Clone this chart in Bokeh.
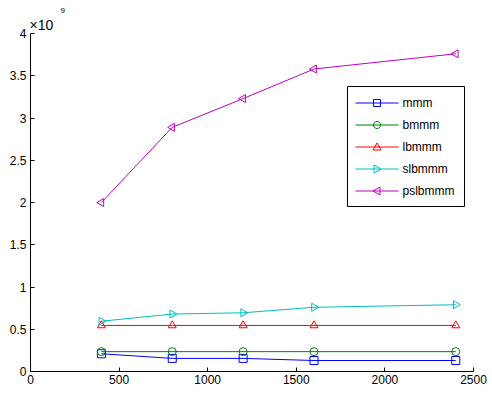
import math
from bokeh.plotting import figure
from bokeh.models import Range1d, Title, PolyAnnotation, BoxAnnotation, Label
from bokeh.embed import file_html
from bokeh.resources import INLINE

# x values and series values (in units of 1e9)
x_vals = [400, 800, 1200, 1600, 2400]
mmm = [0.21, 0.155, 0.155, 0.13, 0.13]
bmmm = [0.235, 0.235, 0.235, 0.235, 0.235]
lbmmm = [0.545, 0.545, 0.545, 0.545, 0.545]
slbmmm = [0.595, 0.68, 0.695, 0.76, 0.79]
pslbmmm = [2.0, 2.89, 3.23, 3.58, 3.76]

series_names = ["mmm", "bmmm", "lbmmm", "slbmmm", "pslbmmm"]
x_ticks = [0, 500, 1000, 1500, 2000, 2500]
y_ticks = [0, 0.5, 1, 1.5, 2, 2.5, 3, 3.5, 4]
y_tick_labels = ["0", "0.5", "1", "1.5", "2", "2.5", "3", "3.5", "4"]

FONT = "Liberation Sans"

p = figure(width=492, height=393, output_backend="svg", toolbar_location=None,
           x_range=Range1d(0, 2500), y_range=Range1d(0, 4))
p.min_border_left = 30
p.min_border_right = 19
p.min_border_top = 33
p.min_border_bottom = 22
p.outline_line_color = None
p.xgrid.visible = False
p.ygrid.visible = False
p.background_fill_color = "white"
p.border_fill_color = "white"

for ax in (p.xaxis[0], p.yaxis[0]):
    ax.major_tick_in = 4
    ax.major_tick_out = 0
    ax.minor_tick_line_color = None
    ax.axis_line_color = "black"
    ax.major_tick_line_color = "black"
    ax.major_label_text_font = FONT
    ax.major_label_text_font_size = "12px"
    ax.major_label_text_color = "black"

p.xaxis[0].ticker = x_ticks
p.yaxis[0].ticker = y_ticks
p.yaxis[0].major_label_overrides = {t: l for t, l in zip(y_ticks, y_tick_labels)}
p.xaxis[0].major_label_standoff = 3
p.yaxis[0].major_label_standoff = 4

colors = ["#0000ff", "#008000", "#ff0000", "#00bfbf", "#bf00bf"]
markers = ["square", "circle", "triangle", "triangle", "triangle"]
angles = [0, 0, 0, -math.pi / 2, math.pi / 2]
data = [mmm, bmmm, lbmmm, slbmmm, pslbmmm]

for name, ys, c, m, a in zip(series_names, data, colors, markers, angles):
    p.line(x_vals, ys, line_color=c, line_width=1)
    p.scatter(x_vals, ys, marker=m, size=8, angle=a, line_color=c,
              fill_color=None, line_width=1)

# ---- legend drawn by hand (screen units: from frame left / frame bottom) ----
BOX_L, BOX_R, BOX_T, BOX_B = 317, 434, 285, 165
ROW0, ROW_STEP = 268.5, -22
LINE_X0, LINE_X1, MARK_X, TEXT_X = 325, 368, 346.5, 372

p.add_layout(BoxAnnotation(left=BOX_L, right=BOX_R, top=BOX_T, bottom=BOX_B,
                           left_units="screen", right_units="screen",
                           top_units="screen", bottom_units="screen",
                           fill_color="white", fill_alpha=1,
                           line_color="black", line_width=1, line_alpha=1))


def marker_shape(kind, cx, cy):
    if kind == "square":
        r = 3.5
        return [cx - r, cx + r, cx + r, cx - r], [cy - r, cy - r, cy + r, cy + r]
    if kind == "circle":
        r = 3.5
        n = 20
        return ([cx + r * math.cos(2 * math.pi * k / n) for k in range(n)],
                [cy + r * math.sin(2 * math.pi * k / n) for k in range(n)])
    if kind == "up":
        return [cx - 4, cx + 4, cx], [cy - 3, cy - 3, cy + 4]
    if kind == "right":
        return [cx - 3, cx - 3, cx + 4], [cy - 4, cy + 4, cy]
    return [cx + 3, cx + 3, cx - 4], [cy - 4, cy + 4, cy]


legend_kinds = ["square", "circle", "up", "right", "left"]
for i, (name, c, kind) in enumerate(zip(series_names, colors, legend_kinds)):
    cy = ROW0 + i * ROW_STEP
    p.add_layout(PolyAnnotation(xs=[LINE_X0, LINE_X1], ys=[cy, cy],
                                xs_units="screen", ys_units="screen",
                                line_color=c, line_width=1, line_alpha=1,
                                fill_alpha=0))
    mx, my = marker_shape(kind, MARK_X, cy)
    p.add_layout(PolyAnnotation(xs=mx, ys=my, xs_units="screen", ys_units="screen",
                                line_color=c, line_width=1, line_alpha=1,
                                fill_alpha=0))
    p.add_layout(Label(x=TEXT_X, y=cy, x_units="screen", y_units="screen",
                       text=name, text_font=FONT, text_font_size="12px",
                       text_baseline="middle", text_color="black"))

t_exp = Title(text="9", align="left", offset=30, text_font=FONT,
              text_font_size="8px", text_font_style="normal", standoff=3,
              text_color="black")
t_base = Title(text="×10", align="left", offset=-1, text_font=FONT,
               text_font_size="14px", text_font_style="normal", standoff=1,
               text_color="black")
p.add_layout(t_base, "above")
p.add_layout(t_exp, "above")

open("out.html", "w").write(file_html(p, INLINE))
